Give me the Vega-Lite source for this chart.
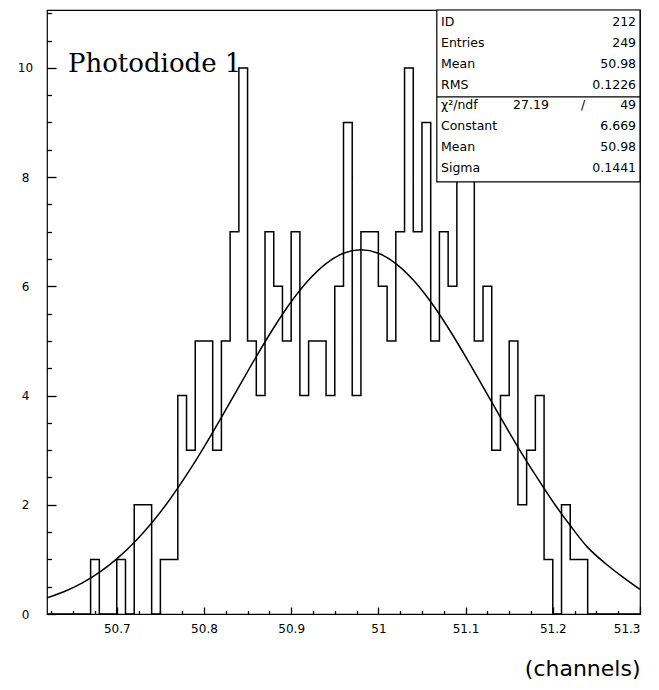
{
  "$schema": "https://vega.github.io/schema/vega-lite/v6.json",
  "width": 593,
  "height": 604,
  "autosize": "none",
  "padding": {"left": 47, "top": 10, "right": 19, "bottom": 76},
  "background": "white",
  "config": {
    "font": "DejaVu Sans",
    "view": {"stroke": "black", "strokeWidth": 1.2},
    "axis": {"domain": false, "grid": false, "tickColor": "black", "tickWidth": 1.3, "labelColor": "black", "titleColor": "black", "zindex": 1}
  },
  "datasets": {
    "hist": [
      {"x": 50.62, "n": 0}, {"x": 50.63, "n": 0}, {"x": 50.64, "n": 0}, {"x": 50.65, "n": 0}, {"x": 50.66, "n": 0},
      {"x": 50.67, "n": 1}, {"x": 50.68, "n": 0}, {"x": 50.69, "n": 0}, {"x": 50.70, "n": 1}, {"x": 50.71, "n": 0},
      {"x": 50.72, "n": 2}, {"x": 50.73, "n": 2}, {"x": 50.74, "n": 0}, {"x": 50.75, "n": 1}, {"x": 50.76, "n": 1},
      {"x": 50.77, "n": 4}, {"x": 50.78, "n": 3}, {"x": 50.79, "n": 5}, {"x": 50.80, "n": 5}, {"x": 50.81, "n": 3},
      {"x": 50.82, "n": 5}, {"x": 50.83, "n": 7}, {"x": 50.84, "n": 10}, {"x": 50.85, "n": 5}, {"x": 50.86, "n": 4},
      {"x": 50.87, "n": 7}, {"x": 50.88, "n": 6}, {"x": 50.89, "n": 5}, {"x": 50.90, "n": 7}, {"x": 50.91, "n": 4},
      {"x": 50.92, "n": 5}, {"x": 50.93, "n": 5}, {"x": 50.94, "n": 4}, {"x": 50.95, "n": 6}, {"x": 50.96, "n": 9},
      {"x": 50.97, "n": 4}, {"x": 50.98, "n": 7}, {"x": 50.99, "n": 7}, {"x": 51.00, "n": 6}, {"x": 51.01, "n": 5},
      {"x": 51.02, "n": 7}, {"x": 51.03, "n": 10}, {"x": 51.04, "n": 7}, {"x": 51.05, "n": 9}, {"x": 51.06, "n": 5},
      {"x": 51.07, "n": 7}, {"x": 51.08, "n": 6}, {"x": 51.09, "n": 8}, {"x": 51.10, "n": 8}, {"x": 51.11, "n": 5},
      {"x": 51.12, "n": 6}, {"x": 51.13, "n": 3}, {"x": 51.14, "n": 4}, {"x": 51.15, "n": 5}, {"x": 51.16, "n": 2},
      {"x": 51.17, "n": 3}, {"x": 51.18, "n": 4}, {"x": 51.19, "n": 1}, {"x": 51.20, "n": 0}, {"x": 51.21, "n": 2},
      {"x": 51.22, "n": 1}, {"x": 51.23, "n": 1}, {"x": 51.24, "n": 0}, {"x": 51.25, "n": 0}, {"x": 51.26, "n": 0},
      {"x": 51.27, "n": 0}, {"x": 51.28, "n": 0}, {"x": 51.29, "n": 0}, {"x": 51.30, "n": 0}
    ],
    "fit": [
      {"x": 50.62, "f": 0.295}, {"x": 50.64, "f": 0.412}, {"x": 50.66, "f": 0.566}, {"x": 50.68, "f": 0.763},
      {"x": 50.70, "f": 1.010}, {"x": 50.72, "f": 1.310}, {"x": 50.74, "f": 1.666}, {"x": 50.76, "f": 2.079},
      {"x": 50.78, "f": 2.546}, {"x": 50.80, "f": 3.057}, {"x": 50.82, "f": 3.601}, {"x": 50.84, "f": 4.160},
      {"x": 50.86, "f": 4.715}, {"x": 50.88, "f": 5.242}, {"x": 50.90, "f": 5.717}, {"x": 50.92, "f": 6.115},
      {"x": 50.94, "f": 6.417}, {"x": 50.96, "f": 6.605}, {"x": 50.98, "f": 6.669}, {"x": 51.00, "f": 6.605},
      {"x": 51.02, "f": 6.417}, {"x": 51.04, "f": 6.115}, {"x": 51.06, "f": 5.717}, {"x": 51.08, "f": 5.242},
      {"x": 51.10, "f": 4.715}, {"x": 51.12, "f": 4.160}, {"x": 51.14, "f": 3.601}, {"x": 51.16, "f": 3.057},
      {"x": 51.18, "f": 2.546}, {"x": 51.20, "f": 2.060}, {"x": 51.22, "f": 1.620}, {"x": 51.24, "f": 1.220},
      {"x": 51.26, "f": 0.930}, {"x": 51.28, "f": 0.680}, {"x": 51.30, "f": 0.450}
    ],
    "stats": [
      {"row": 0, "label": "ID", "mid": "", "slash": "", "value": "212"},
      {"row": 1, "label": "Entries", "mid": "", "slash": "", "value": "249"},
      {"row": 2, "label": "Mean", "mid": "", "slash": "", "value": "50.98"},
      {"row": 3, "label": "RMS", "mid": "", "slash": "", "value": "0.1226"},
      {"row": 4, "label": "χ²/ndf", "mid": "27.19", "slash": "/", "value": "49"},
      {"row": 5, "label": "Constant", "mid": "", "slash": "", "value": "6.669"},
      {"row": 6, "label": "Mean", "mid": "", "slash": "", "value": "50.98"},
      {"row": 7, "label": "Sigma", "mid": "", "slash": "", "value": "0.1441"}
    ]
  },
  "layer": [
    {
      "layer": [
        {
          "data": {"name": "hist"},
          "mark": {"type": "line", "interpolate": "step-after", "color": "black", "strokeWidth": 1.5},
          "encoding": {
            "x": {"field": "x", "type": "quantitative",
                  "scale": {"domain": [50.62, 51.3], "nice": false, "zero": false},
                  "axis": {"orient": "bottom", "values": [50.7, 50.8, 50.9, 51, 51.1, 51.2, 51.3], "format": "~g",
                           "ticks": false, "tickSize": 0, "labelPadding": 9, "labelFontSize": 12,
                           "title": "(channels)", "titleAnchor": "end", "titleFontSize": 22, "titleFontWeight": "normal", "titlePadding": 24}},
            "y": {"field": "n", "type": "quantitative",
                  "scale": {"domain": [0, 11.06], "nice": false, "zero": false},
                  "axis": {"orient": "left", "values": [0, 2, 4, 6, 8, 10], "ticks": false, "tickSize": 0, "labelAlign": "center",
                           "labelPadding": 22, "labelFontSize": 12, "title": null}}
          }
        },
        {
          "data": {"name": "fit"},
          "mark": {"type": "line", "interpolate": "monotone", "color": "black", "strokeWidth": 1.5},
          "encoding": {
            "x": {"field": "x", "type": "quantitative",
                  "scale": {"domain": [50.62, 51.3], "nice": false, "zero": false},
                  "axis": {"orient": "top", "offset": -604, "labels": false, "ticks": true, "title": null, "tickSize": 7,
                           "values": [50.7, 50.8, 50.9, 51, 51.1, 51.2, 51.3]}},
            "y": {"field": "f", "type": "quantitative",
                  "scale": {"domain": [0, 11.06], "nice": false, "zero": false},
                  "axis": {"orient": "right", "offset": -593, "labels": false, "ticks": true, "title": null, "tickSize": 9,
                           "values": [0, 2, 4, 6, 8, 10]}}
          }
        },
        {
          "data": {"values": [{}]},
          "mark": {"type": "text", "text": "Photodiode 1", "font": "DejaVu Serif", "fontSize": 26, "align": "left", "baseline": "alphabetic", "color": "black"},
          "encoding": {
            "x": {"datum": 50.644, "type": "quantitative",
                  "axis": {"orient": "top", "offset": -604, "labels": false, "ticks": true, "title": null, "tickSize": 3.5,
                           "values": [50.625, 50.65, 50.675, 50.725, 50.75, 50.775, 50.825, 50.85, 50.875, 50.925, 50.95, 50.975, 51.025, 51.05, 51.075, 51.125, 51.15, 51.175, 51.225, 51.25, 51.275]}},
            "y": {"datum": 9.93, "type": "quantitative",
                  "axis": {"orient": "right", "offset": -593, "labels": false, "ticks": true, "title": null, "tickSize": 4.5,
                           "values": [0.5, 1, 1.5, 2.5, 3, 3.5, 4.5, 5, 5.5, 6.5, 7, 7.5, 8.5, 9, 9.5, 10.5, 11]}}
          }
        },
        {
          "data": {"values": [{}]},
          "mark": {"type": "rect", "fill": "white", "stroke": "black", "strokeWidth": 1.2},
          "encoding": {
            "x": {"datum": 51.067, "type": "quantitative", "axis": null},
            "x2": {"datum": 51.3},
            "y": {"datum": 11.06, "type": "quantitative", "axis": null},
            "y2": {"datum": 7.912}
          }
        },
        {
          "data": {"values": [{}]},
          "mark": {"type": "rule", "color": "black", "strokeWidth": 1.2},
          "encoding": {
            "x": {"datum": 51.067, "type": "quantitative", "axis": null},
            "x2": {"datum": 51.3},
            "y": {"datum": 9.469, "type": "quantitative", "axis": null}
          }
        }
      ],
      "resolve": {"axis": {"x": "independent", "y": "independent"}}
    },
    {
      "data": {"name": "stats"},
      "encoding": {
        "y": {"field": "row", "type": "quantitative", "scale": {"domain": [0, 7], "range": [12, 158], "nice": false, "zero": false}, "axis": null}
      },
      "layer": [
        {
          "mark": {"type": "text", "align": "left", "baseline": "middle", "fontSize": 12.5, "color": "black"},
          "encoding": {"x": {"datum": 51.0718, "type": "quantitative", "axis": null}, "text": {"field": "label"}}
        },
        {
          "mark": {"type": "text", "align": "center", "baseline": "middle", "fontSize": 12.5, "color": "black"},
          "encoding": {"x": {"datum": 51.175, "type": "quantitative", "axis": null}, "text": {"field": "mid"}}
        },
        {
          "mark": {"type": "text", "align": "center", "baseline": "middle", "fontSize": 12.5, "color": "black"},
          "encoding": {"x": {"datum": 51.2347, "type": "quantitative", "axis": null}, "text": {"field": "slash"}}
        },
        {
          "mark": {"type": "text", "align": "right", "baseline": "middle", "fontSize": 12.5, "color": "black"},
          "encoding": {"x": {"datum": 51.2955, "type": "quantitative", "axis": null}, "text": {"field": "value"}}
        }
      ]
    }
  ],
  "resolve": {"scale": {"y": "independent"}, "axis": {"x": "independent", "y": "independent"}}
}
